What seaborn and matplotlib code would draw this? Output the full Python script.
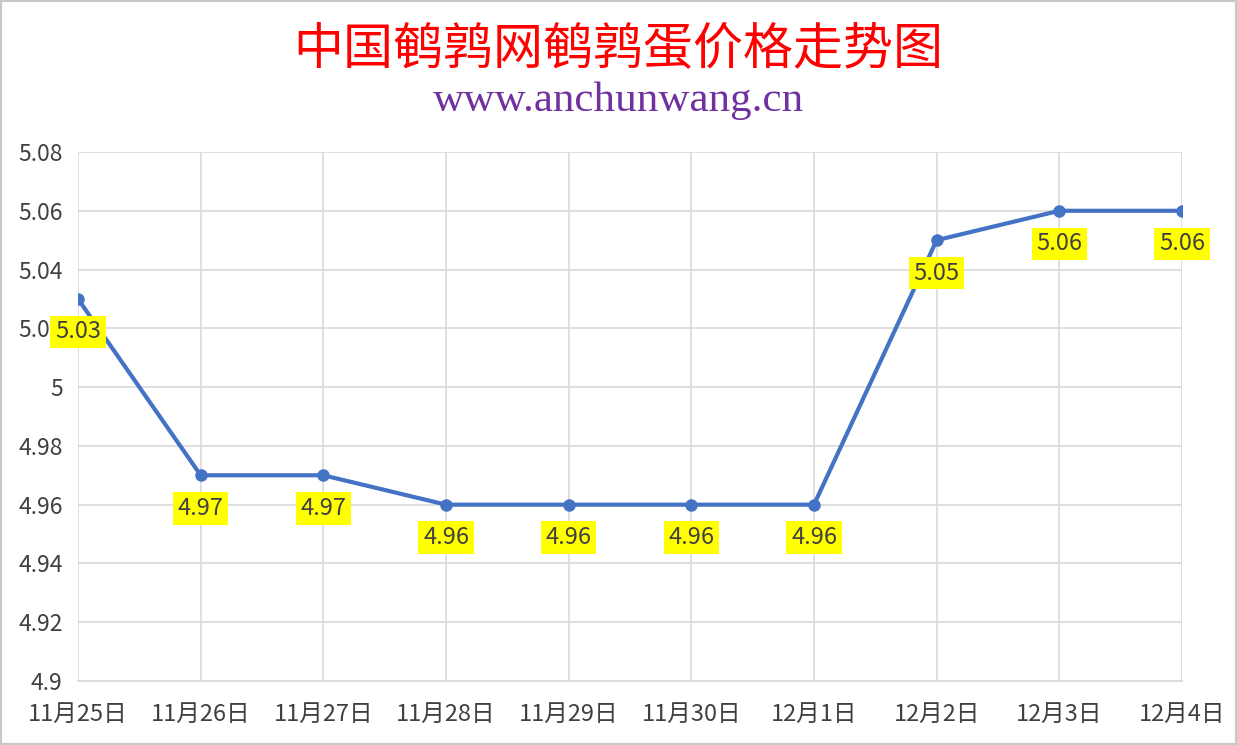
import matplotlib
matplotlib.use("Agg")
import matplotlib.pyplot as plt
import seaborn as sns
import pandas as pd
from matplotlib.patches import Rectangle

dates = ["11月25日", "11月26日", "11月27日", "11月28日", "11月29日",
         "11月30日", "12月1日", "12月2日", "12月3日", "12月4日"]
prices = [5.03, 4.97, 4.97, 4.96, 4.96, 4.96, 4.96, 5.05, 5.06, 5.06]
yticks = [4.90, 4.92, 4.94, 4.96, 4.98, 5.00, 5.02, 5.04, 5.06, 5.08]
title = "中国鹌鹑网鹌鹑蛋价格走势图"
subtitle = "www.anchunwang.cn"

sns.set_theme(style="white")
plt.rcParams['font.family'] = ['Noto Sans CJK SC', 'DejaVu Sans']

df = pd.DataFrame({"date": dates, "price": prices})

fig = plt.figure(figsize=(12.37, 7.45), dpi=100)
ax = fig.add_axes([78/1237, 1-681/745, (1182-78)/1237, (681-152)/745])

sns.lineplot(data=df, x="date", y="price", ax=ax, sort=False, color="#4472C4",
             linewidth=3, marker="o", markersize=9, markeredgewidth=0, zorder=3)

ax.set_ylim(4.90, 5.08)
ax.set_xlim(0, len(dates) - 1)
ax.set_yticks(yticks)
ax.set_yticklabels([f"{round(v, 2):g}" for v in yticks])
ax.set_xticks(range(len(dates)))
ax.set_xticklabels(dates)
ax.tick_params(axis="y", labelsize=16.5, labelcolor="#404040", length=0, pad=11)
ax.tick_params(axis="x", labelsize=17, labelcolor="#404040", length=0, pad=16)
ax.set_xlabel("")
ax.set_ylabel("")
ax.grid(True, color="#D9D9D9", linewidth=1.2)
for s in ["top", "right", "left"]:
    ax.spines[s].set_visible(False)
ax.spines["bottom"].set_color("#D9D9D9")
ax.spines["bottom"].set_linewidth(1.2)

for i, v in enumerate(prices):
    ax.annotate(f"{v:.2f}", (i, v), xytext=(0, -33), textcoords="offset pixels",
                ha="center", va="center", fontsize=17, color="#404040",
                bbox=dict(boxstyle="square,pad=0.2", fc="#FFFF00", ec="none"),
                zorder=5, annotation_clip=False)

fig.text(0.5, 1-49/745, title, ha="center", va="center", fontsize=36, color="#FF0000",
         family=["Noto Sans CJK SC", "DejaVu Sans"])
fig.text(0.5, 1-101/745, subtitle, ha="center", va="center", fontsize=31, color="#7030A0",
         family=["Liberation Serif", "DejaVu Serif"])

fig.patches.append(Rectangle((0, 0), 1, 1, transform=fig.transFigure, fill=False,
                             edgecolor="#C8C8C8", linewidth=3, zorder=10))

fig.savefig("out.png", dpi=100, facecolor="white")
